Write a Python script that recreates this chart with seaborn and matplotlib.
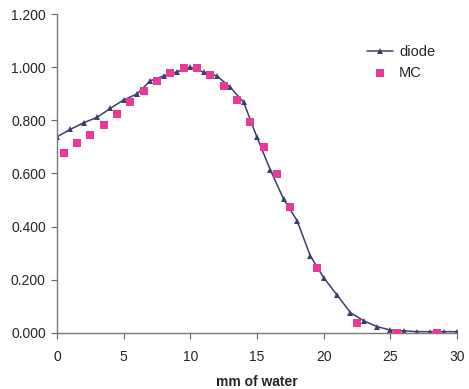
import numpy as np
import pandas as pd
import matplotlib
matplotlib.use("Agg")
import matplotlib.pyplot as plt
import seaborn as sns

# diode measurements (integer depths)
diode_depth = list(range(0, 31))
diode_dose = [0.738, 0.766, 0.791, 0.811, 0.845, 0.877, 0.899, 0.949, 0.967, 0.983,
              1.000, 0.981, 0.967, 0.924, 0.868, 0.736, 0.613, 0.503, 0.423, 0.290,
              0.208, 0.143, 0.077, 0.046, 0.024, 0.011, 0.008, 0.005, 0.005, 0.005,
              0.005]

# Monte Carlo values (half-integer depths)
mc_depth = [0.5, 1.5, 2.5, 3.5, 4.5, 5.5, 6.5, 7.5, 8.5, 9.5, 10.5, 11.5, 12.5,
            13.5, 14.5, 15.5, 16.5, 17.5, 19.5, 22.5, 25.5, 28.5]
mc_dose = [0.676, 0.716, 0.746, 0.781, 0.823, 0.868, 0.912, 0.949, 0.979, 0.998,
           0.998, 0.971, 0.930, 0.877, 0.795, 0.701, 0.598, 0.473, 0.245, 0.039,
           0.0, 0.0]

x_ticks = [0, 5, 10, 15, 20, 25, 30]
y_ticks = [0.0, 0.2, 0.4, 0.6, 0.8, 1.0, 1.2]

sns.set_style("white")
plt.rcParams['font.family'] = ['Liberation Sans', 'DejaVu Sans']

diode_df = pd.DataFrame({'depth': diode_depth, 'dose': diode_dose})
mc_df = pd.DataFrame({'depth': mc_depth, 'dose': mc_dose})

fig = plt.figure(figsize=(4.69, 3.89), dpi=100)
ax = fig.add_axes([0.1215, 0.144, 0.853, 0.82])

sns.lineplot(data=diode_df, x='depth', y='dose', ax=ax, color='#3d3d6b',
             linewidth=1.1, marker='^', markersize=4, markeredgewidth=0,
             label='diode', zorder=2)
sns.scatterplot(data=mc_df, x='depth', y='dose', ax=ax, color='#ec3896',
                marker='s', s=28, linewidth=0, label='MC', zorder=3)

ax.set_xlim(0, 30)
ax.set_ylim(0, 1.2)
ax.set_xticks(x_ticks)
ax.set_yticks(y_ticks)
ax.set_yticklabels([f"{v:.3f}" for v in y_ticks])
ax.tick_params(axis='both', labelsize=10, length=4, width=0.8, color='#666666',
               direction='out', bottom=True, left=True, pad=4)
ax.tick_params(axis='x', pad=8)

for side in ['top', 'right']:
    ax.spines[side].set_visible(False)
for side in ['left', 'bottom']:
    ax.spines[side].set_color('#777777')
    ax.spines[side].set_linewidth(1.0)

ax.set_xlabel("mm of water", fontsize=10, fontweight='bold', labelpad=8)
ax.set_ylabel("")

ax.legend(loc='upper left', bbox_to_anchor=(0.742, 0.945), frameon=False,
          fontsize=10.5, handlelength=1.8, handletextpad=0.4, labelspacing=0.5)

fig.savefig("out.png", dpi=100)
